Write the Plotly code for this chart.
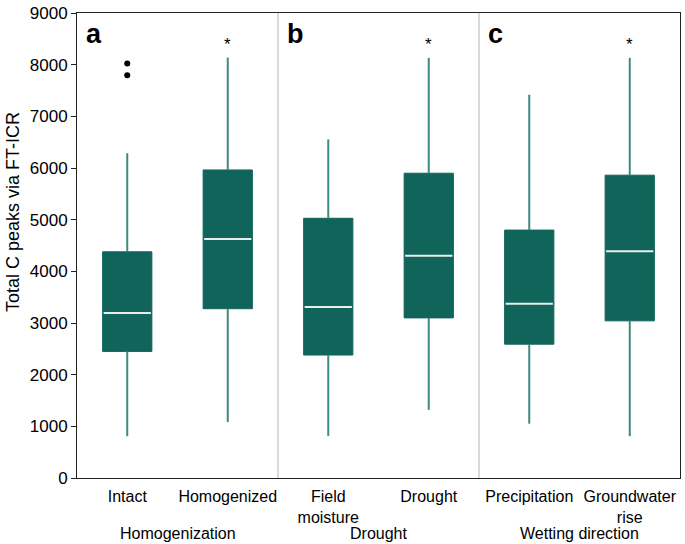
""" Box plots of total C peaks via FT-ICR for three treatment comparisons """

import plotly.graph_objects as go

# data

labels = ['Intact', 'Homogenized', 'Field<br>moisture', 'Drought', 'Precipitation', 'Groundwater<br>rise']
groups = ['Homogenization', 'Drought', 'Wetting direction']
panel_letters = ['a', 'b', 'c']

q1 = [2450, 3277, 2380, 3099, 2590, 3042]
median = [3195, 4626, 3309, 4302, 3373, 4391]
q3 = [4378, 5962, 5027, 5899, 4798, 5861]
lower_fence = [809, 1082, 815, 1319, 1051, 809]
upper_fence = [6286, 8137, 6553, 8132, 7418, 8132]

outlier_x = [0, 0]
outlier_y = [8023, 7794]

signif = [False, True, False, True, False, True]
star_y = 8385

y_ticks = [0, 1000, 2000, 3000, 4000, 5000, 6000, 7000, 8000, 9000]

# style

box_color = '#10645a'
whisker_color = '#3d8a80'
font = 'Liberation Sans, Arial, sans-serif'

fig = go.Figure()

for i in range(len(labels)):
    # whiskers
    fig.add_trace(go.Scatter(
        x=[i, i, None, i, i],
        y=[lower_fence[i], q1[i], None, q3[i], upper_fence[i]],
        mode='lines',
        line={'color': whisker_color, 'width': 2},
        showlegend=False,
        hoverinfo='skip',
    ))
    # box
    fig.add_trace(go.Box(
        x=[i],
        q1=[q1[i]],
        median=[median[i]],
        q3=[q3[i]],
        lowerfence=[q1[i]],
        upperfence=[q3[i]],
        width=0.49,
        fillcolor=box_color,
        line={'color': box_color, 'width': 1},
        whiskerwidth=0,
        showlegend=False,
    ))
    # white median line
    fig.add_trace(go.Scatter(
        x=[i - 0.235, i + 0.235],
        y=[median[i], median[i]],
        mode='lines',
        line={'color': '#e8f0ee', 'width': 2},
        showlegend=False,
        hoverinfo='skip',
    ))

# outliers
fig.add_trace(go.Scatter(
    x=outlier_x,
    y=outlier_y,
    mode='markers',
    marker={'color': 'black', 'size': 6},
    showlegend=False,
))

# significance stars
for i, s in enumerate(signif):
    if s:
        fig.add_annotation(x=i, y=star_y, text='*', showarrow=False,
                           font={'size': 17, 'color': 'black', 'family': font})

# panel letters
for k, letter in enumerate(panel_letters):
    fig.add_annotation(x=2 * k - 0.43, y=8600, text='<b>%s</b>' % letter, showarrow=False,
                       xanchor='left', yanchor='middle',
                       font={'size': 27, 'color': 'black', 'family': font})

# group labels
for k, g in enumerate(groups):
    fig.add_annotation(x=2 * k + 0.5, y=-0.12, yref='paper', text=g, showarrow=False,
                       yanchor='middle', font={'size': 16, 'color': 'black', 'family': font})

# y axis title (sits a bit above the axis centre in the original)
fig.add_annotation(x=-0.106, xref='paper', y=5150, text='Total C peaks via FT-ICR',
                   textangle=-90, showarrow=False, xanchor='center', yanchor='middle',
                   font={'size': 18, 'color': 'black', 'family': font})

# separators
for xs in [1.5, 3.5]:
    fig.add_shape(type='line', x0=xs, x1=xs, y0=0, y1=1, yref='paper',
                  line={'color': '#b4b4b4', 'width': 1})

fig.update_layout(
    width=685,
    height=544,
    margin={'l': 77, 'r': 4, 't': 8, 'b': 66},
    plot_bgcolor='white',
    paper_bgcolor='white',
    font={'family': font, 'size': 16, 'color': 'black'},
)

fig.update_xaxes(
    range=[-0.5, 5.5],
    tickvals=list(range(len(labels))),
    ticktext=labels,
    showline=True,
    linecolor='#222',
    linewidth=1,
    mirror=True,
    showgrid=False,
    zeroline=False,
    ticks='',
    ticklabelstandoff=4,
    tickfont={'size': 16},
)

fig.update_yaxes(
    range=[0, 9000],
    tickvals=y_ticks,
    ticklabeloverflow='allow',
    showline=True,
    linecolor='#222',
    linewidth=1,
    mirror=True,
    showgrid=False,
    zeroline=False,
    ticks='outside',
    ticklen=5,
    tickcolor='#222',
    tickfont={'size': 17},
)

fig.write_html('out.html', config={'displayModeBar': False},
               post_script="document.body.style.margin = '0';")
